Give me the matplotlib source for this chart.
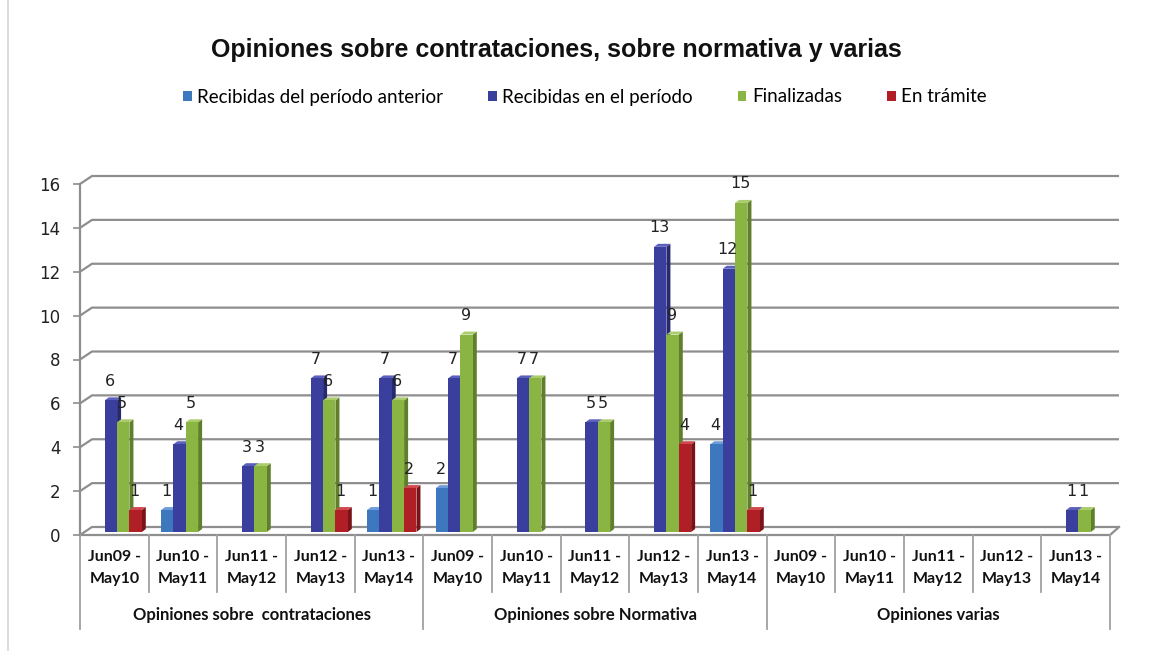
import numpy as np
import matplotlib
matplotlib.use("Agg")
import matplotlib.pyplot as plt
from matplotlib.patches import Polygon, Patch
from matplotlib.transforms import ScaledTranslation

# ---------------- data ----------------
periods = ["Jun09 -\nMay10", "Jun10 -\nMay11", "Jun11 -\nMay12", "Jun12 -\nMay13", "Jun13 -\nMay14"]
groups = ["Opiniones sobre  contrataciones", "Opiniones sobre Normativa", "Opiniones varias"]
series_names = ["Recibidas del período anterior", "Recibidas en el período", "Finalizadas", "En trámite"]
N = np.nan
anterior   = [N, 1, N, N, 1,   2, N, N, N, 4,   N, N, N, N, N]
recibidas  = [6, 4, 3, 7, 7,   7, 7, 5, 13, 12, N, N, N, N, 1]
finalizadas= [5, 5, 3, 6, 6,   9, 7, 5, 9, 15,  N, N, N, N, 1]
tramite    = [1, N, N, 1, 2,   N, N, N, 4, 1,   N, N, N, N, N]
yticks = list(range(0, 17, 2))
title = "Opiniones sobre contrataciones, sobre normativa y varias"

series = [anterior, recibidas, finalizadas, tramite]
front_c = ["#3D77BE", "#3A3E9C", "#8AB543", "#B11F26"]
side_c  = ["#2A5688", "#262A6E", "#5F7F2B", "#7A1318"]
top_c   = ["#6E9CD8", "#5C60BD", "#AACC6C", "#D0474D"]

W, H, DPI = 1167, 651, 100
fig = plt.figure(figsize=(W / DPI, H / DPI), dpi=DPI)
fig.patch.set_facecolor("white")

x0, x1, y0, y1 = 80, 1110, 535, 184   # front plot box in pixels
ax = fig.add_axes([x0 / W, 1 - y0 / H, (x1 - x0) / W, (y0 - y1) / H])
ncat = len(periods) * len(groups)
ax.set_xlim(0, ncat)
ax.set_ylim(0, 16)
for s in ax.spines.values():
    s.set_visible(False)
ax.patch.set_alpha(0)

ux = ncat / (x1 - x0)     # data units per pixel (x)
uy = 16 / (y0 - y1)       # data units per pixel (y)
grid_c = "#8E8E8E"

# back wall grid + left diagonals
for v in yticks:
    ax.plot([0, 12 * ux, ncat + 9 * ux], [v, v + 8 * uy, v + 8 * uy],
            color=grid_c, lw=1.6, clip_on=False, zorder=1, solid_capstyle="butt")
# floor front edge and right diagonal
ax.plot([0, ncat, ncat + 9 * ux], [0, 0, 8 * uy], color=grid_c, lw=1.6,
        clip_on=False, zorder=1)
# front vertical axis
ax.plot([0, 0], [0, 16], color=grid_c, lw=1.6, clip_on=False, zorder=1)

ax.set_yticks(yticks)
ax.set_yticklabels([str(v) for v in yticks], fontsize=12, family="DejaVu Sans", color="#222222")
ax.tick_params(axis="y", length=5, width=1.2, color=grid_c, pad=9)

# x category labels
cats = periods * len(groups)
ax.set_xticks(np.arange(ncat) + 0.5)
ax.set_xticklabels(cats, fontsize=11.5, family="Lato", fontweight="bold",
                   color="#111111", linespacing=1.7)
ax.tick_params(axis="x", length=0, pad=11)

# table lines under the axis
for i in range(ncat + 1):
    is_group = i % len(periods) == 0
    ybot = -(629 - y0) * uy if is_group else -(592 - y0) * uy
    ax.plot([i, i], [0, ybot], color="#A0A0A0", lw=1.3, clip_on=False, zorder=1)
for g, name in enumerate(groups):
    ax.text(g * len(periods) + len(periods) / 2, -(615 - y0) * uy, name,
            ha="center", va="center", fontsize=12, family="Lato",
            fontweight="bold", color="#111111", clip_on=False)

# bars with 3D faces
bw = 0.18
start = 0.18
dx, dy = 4 * ux, 3 * uy
lift = ScaledTranslation(0, 3 / DPI, fig.dpi_scale_trans)
xs = np.arange(ncat)
for k, vals in enumerate(series):
    lefts = xs + start + k * bw
    bars = ax.bar(lefts, vals, width=bw, align="edge", color=front_c[k],
                  edgecolor="none", zorder=3 + k * 0.01, label=series_names[k])
    for b, v, l in zip(bars, vals, lefts):
        b.set_transform(ax.transData + lift)
        if np.isnan(v):
            continue
        r = l + bw
        side = Polygon([[r, 0], [r + dx, dy], [r + dx, v + dy], [r, v]], closed=True,
                       facecolor=side_c[k], edgecolor="none", zorder=2.9,
                       transform=ax.transData + lift)
        top = Polygon([[l, v], [l + dx, v + dy], [r + dx, v + dy], [r, v]], closed=True,
                      facecolor=top_c[k], edgecolor="none", zorder=2.95,
                      transform=ax.transData + lift)
        ax.add_patch(side)
        ax.add_patch(top)
        ax.text(l + bw / 2 - 1 * ux, v + 19 * uy, f"{v:g}", ha="center", va="center",
                fontsize=11.5, family="DejaVu Sans", color="#222222", zorder=5,
                transform=ax.transData + lift)

# title
fig.text(556 / W, 1 - 50 / H, title, ha="center", va="center", fontsize=18,
         fontweight="bold", family="Liberation Sans", color="#111111")

# legend
handles = [Patch(facecolor=c, edgecolor="none") for c in front_c]
fig.legend(handles, series_names, loc="center", bbox_to_anchor=(585 / W, 1 - 97 / H),
           ncol=4, frameon=False, prop={"family": "Lato", "size": 13.5},
           handlelength=0.45, handleheight=0.45, handletextpad=0.3, columnspacing=2.4)

# faint chart border at left
fig.add_artist(plt.Line2D([8 / W, 8 / W], [0, 1], color="#D6D6D6", lw=1.2))

fig.savefig("out.png", dpi=DPI)
